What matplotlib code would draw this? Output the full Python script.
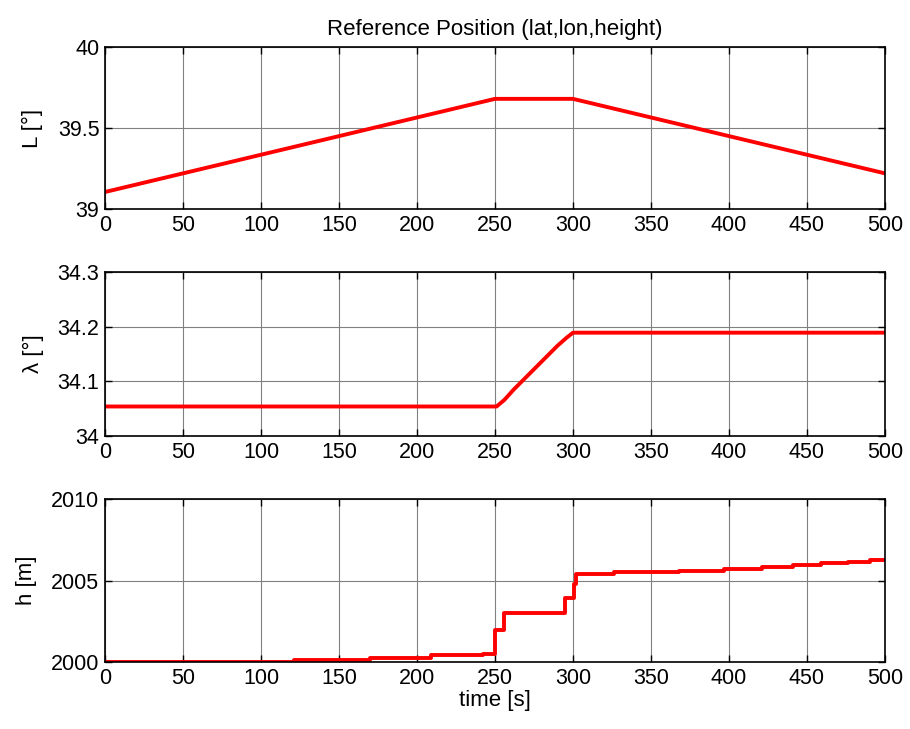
import matplotlib.pyplot as plt

plt.rcParams['font.family'] = ['Liberation Sans', 'DejaVu Sans']

# --- Data ---
# latitude (deg), piecewise linear
lat_t = [0, 250, 300, 500]
lat_v = [39.105, 39.68, 39.68, 39.22]

# longitude (deg)
lon_t = [0, 251, 256, 262, 290, 296, 300, 500]
lon_v = [34.054, 34.054, 34.066, 34.085, 34.165, 34.180, 34.189, 34.189]

# height (m), piecewise constant steps
h_t = [0, 121, 170, 209, 242, 250, 255.5, 295, 300.5, 302, 326, 368, 397, 421,
       441, 459, 476, 490.5, 500]
h_v = [2000.03, 2000.15, 2000.27, 2000.41, 2000.52, 2001.95, 2003.0, 2003.9,
       2004.8, 2005.4, 2005.53, 2005.6, 2005.7, 2005.83, 2005.93, 2006.05,
       2006.15, 2006.27, 2006.27]

xticks = list(range(0, 501, 50))

fig = plt.figure(figsize=(9.1, 7.29), dpi=100)
L, W = 0.1154, 0.8571
ax1 = fig.add_axes([L, 0.7133, W, 0.2222])
ax2 = fig.add_axes([L, 0.4019, W, 0.2250])
ax3 = fig.add_axes([L, 0.0919, W, 0.2236])

ax1.plot(lat_t, lat_v, color='red', lw=2.8)
ax2.plot(lon_t, lon_v, color='red', lw=2.8)
ax3.plot(h_t, h_v, color='red', lw=2.8, drawstyle='steps-post')

ax1.set_ylim(39, 40)
ax1.set_yticks([39, 39.5, 40])
ax1.set_yticklabels(['39', '39.5', '40'])
ax2.set_ylim(34, 34.3)
ax2.set_yticks([34, 34.1, 34.2, 34.3])
ax2.set_yticklabels(['34', '34.1', '34.2', '34.3'])
ax3.set_ylim(2000, 2010)
ax3.set_yticks([2000, 2005, 2010])

ax1.set_ylabel('L [°]', fontsize=16, labelpad=11)
ax2.set_ylabel('λ [°]', fontsize=16, labelpad=10)
ax3.set_ylabel('h [m]', fontsize=16, labelpad=10)
ax3.set_xlabel('time [s]', fontsize=16, labelpad=1)
ax1.set_title('Reference Position (lat,lon,height)', fontsize=16, pad=9)

for ax in (ax1, ax2, ax3):
    ax.set_xlim(0, 500)
    ax.set_xticks(xticks)
    ax.grid(True, color='#808080', lw=0.8)
    ax.tick_params(direction='in', top=True, right=True, labelsize=15.5,
                   length=5, width=1, pad=4)
    for s in ax.spines.values():
        s.set_linewidth(1.2)

plt.savefig('out.png', dpi=100)
